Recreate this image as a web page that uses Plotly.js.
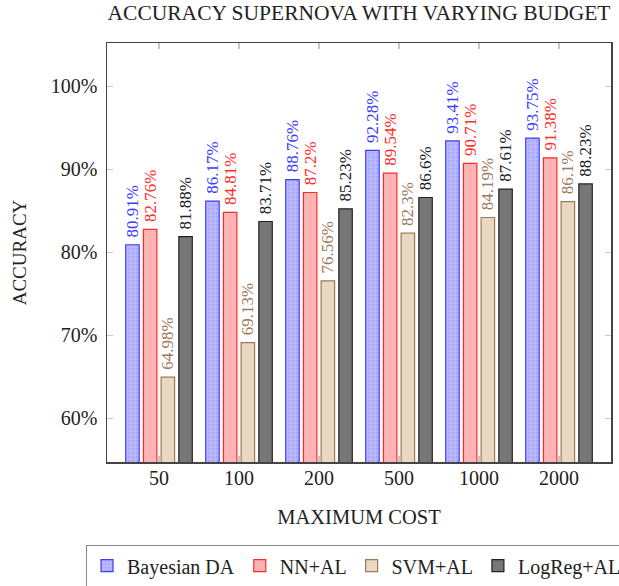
<!DOCTYPE html>
<html>
<head>
<meta charset="utf-8">
<script src="https://cdn.plot.ly/plotly-3.0.1.min.js"></script>
<style>html,body{margin:0;padding:0;background:#fff;}#chart{width:619px;height:586px;}</style>
</head>
<body>
<div id="chart"></div>
<script>
const categories = ['50', '100', '200', '500', '1000', '2000'];
const bayesianDA = [80.91, 86.17, 88.76, 92.28, 93.41, 93.75];
const nnAL = [82.76, 84.81, 87.2, 89.54, 90.71, 91.38];
const svmAL = [64.98, 69.13, 76.56, 82.3, 84.19, 86.1];
const logRegAL = [81.88, 83.71, 85.23, 86.6, 87.61, 88.23];
const seriesNames = ['Bayesian DA', 'NN+AL', 'SVM+AL', 'LogReg+AL'];
const yTickValues = [60, 70, 80, 90, 100];

const FONT = 'Liberation Serif, Times New Roman, serif';

function mk(name, vals, fill, line, txt, pattern) {
  const m = {color: fill, line: {color: line, width: 1.2}};
  if (pattern) m.pattern = pattern;
  return {
    type: 'bar', name: name, x: categories, y: vals,
    marker: m,
    text: vals.map(v => '\u00a0' + v + '%'),
    textposition: 'outside',
    textangle: -90,
    constraintext: 'none',
    cliponaxis: false,
    textfont: {family: FONT, size: 17, color: txt},
    hoverinfo: 'skip'
  };
}

const data = [
  mk(seriesNames[0], bayesianDA, '#b4b4ff', '#3c3cff', '#3c3cff',
     {shape: '.', bgcolor: '#b8b8ff', fgcolor: '#a0a0ff', size: 4, solidity: 0.2}),
  mk(seriesNames[1], nnAL, '#ffb3b3', '#ff2a2a', '#ff2a2a'),
  mk(seriesNames[2], svmAL, '#ead8c2', '#9b7a5a', '#9b7a5a'),
  mk(seriesNames[3], logRegAL, '#777777', '#222222', '#222222')
];

const layout = {
  width: 619, height: 586,
  margin: {l: 107, r: 8, t: 43, b: 124, autoexpand: false},
  paper_bgcolor: '#ffffff', plot_bgcolor: '#ffffff',
  font: {family: FONT, color: '#222', size: 20},
  barmode: 'group', bargap: 0.115, bargroupgap: 0.24,
  showlegend: true,
  title: {text: 'ACCURACY SUPERNOVA WITH VARYING BUDGET', font: {family: FONT, size: 21.5, color: '#222'},
          xref: 'paper', x: 0.5, xanchor: 'center', yref: 'container', y: 1 - 12/586, yanchor: 'middle'},
  xaxis: {
    type: 'category', range: [-0.65, 5.65],
    showline: true, mirror: 'ticks', linecolor: '#444', linewidth: 1.5,
    ticks: 'inside', ticklen: 6, tickcolor: '#c8c8c8', tickwidth: 1.2,
    showgrid: false, zeroline: false,
    tickfont: {family: FONT, size: 20, color: '#222'},
    ticklabelstandoff: -3,
    title: {text: 'MAXIMUM COST', font: {family: FONT, size: 20.5, color: '#222'}, standoff: 22}
  },
  yaxis: {
    range: [54.75, 105.2],
    tickvals: yTickValues, ticktext: yTickValues.map(v => v + '%'),
    showline: true, mirror: 'ticks', linecolor: '#444', linewidth: 1.5,
    ticks: 'inside', ticklen: 6, tickcolor: '#c8c8c8', tickwidth: 1.2,
    showgrid: false, zeroline: false,
    tickfont: {family: FONT, size: 20, color: '#222'},
    ticklabelstandoff: 4,
    title: {text: 'ACCURACY', font: {family: FONT, size: 19, color: '#222'}, standoff: 19}
  },
  legend: {
    orientation: 'h', xref: 'paper', x: -0.042, xanchor: 'left',
    yref: 'paper', y: -(545 - 462) / 419, yanchor: 'top',
    bordercolor: '#888', borderwidth: 1.2, bgcolor: '#fff',
    font: {family: FONT, size: 20, color: '#222'},
    itemwidth: 30, traceorder: 'normal'
  }
};

Plotly.newPlot('chart', data, layout, {displayModeBar: false, staticPlot: true});
</script>
</body>
</html>
